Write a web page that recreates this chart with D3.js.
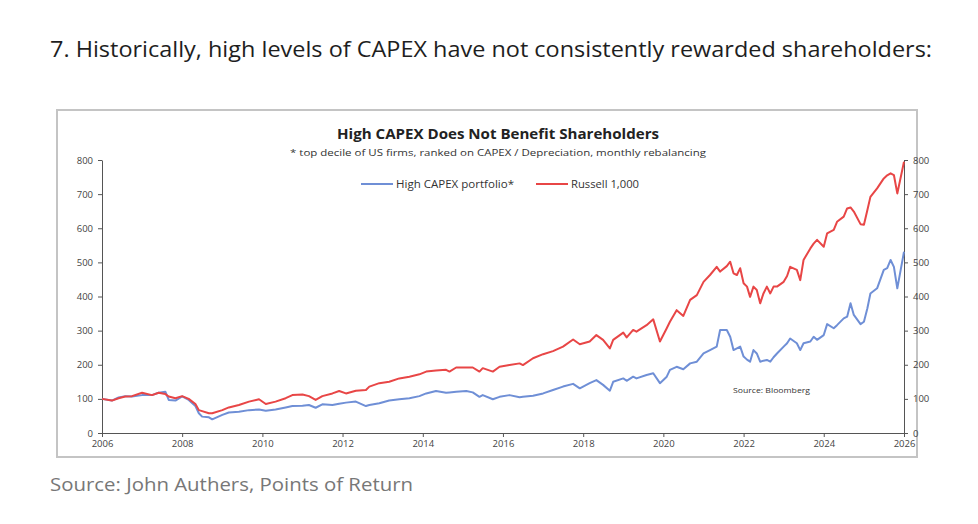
<!DOCTYPE html>
<html>
<head>
<meta charset="utf-8">
<script src="https://cdn.jsdelivr.net/npm/d3@7"></script>
<style>
  html, body { margin: 0; padding: 0; background: #fff; }
  svg text { font-family: "Open Sans", sans-serif; }
  .axis path, .axis line { stroke: #555; }
  .axis text { fill: #444; font-size: 9.5px; font-family: "Open Sans", sans-serif; }
</style>
</head>
<body>
<div id="chart"></div>
<script>
// month, Russell 1,000, High CAPEX portfolio
const months = [
  '2006-01','2006-04','2006-06','2006-08','2006-10','2007-01','2007-04','2007-06','2007-08','2007-09',
  '2007-11','2008-01','2008-03','2008-05','2008-06','2008-07','2008-09','2008-10','2009-01','2009-03',
  '2009-06','2009-09','2009-12','2010-02','2010-05','2010-08','2010-10','2011-01','2011-03','2011-05',
  '2011-07','2011-10','2011-12','2012-02','2012-05','2012-08','2012-09','2012-12','2013-03','2013-06',
  '2013-09','2013-12','2014-02','2014-05','2014-08','2014-09','2014-11','2015-02','2015-04','2015-06',
  '2015-07','2015-10','2015-12','2016-03','2016-06','2016-07','2016-10','2017-01','2017-04','2017-07',
  '2017-10','2017-12','2018-03','2018-05','2018-07','2018-09','2018-10','2019-01','2019-02','2019-04',
  '2019-05','2019-08','2019-10','2019-12','2020-02','2020-03','2020-05','2020-07','2020-09','2020-11',
  '2021-01','2021-03','2021-05','2021-06','2021-08','2021-09','2021-10','2021-11','2021-12','2022-01',
  '2022-02','2022-03','2022-04','2022-05','2022-06','2022-07','2022-08','2022-09','2022-10','2022-11',
  '2023-01','2023-02','2023-03','2023-05','2023-06','2023-07','2023-09','2023-10','2023-11','2024-01',
  '2024-02','2024-04','2024-05','2024-07','2024-08','2024-09','2024-10','2024-12','2025-01','2025-02',
  '2025-03','2025-05','2025-07','2025-08','2025-09','2025-10','2025-11','2026-01'
];
const russell = [
  100, 95, 102, 107, 108, 118, 111, 118, 114, 107,
  102, 108, 100, 85, 67, 64, 58, 58, 67, 75,
  82, 92, 99, 85, 92, 102, 111, 113, 108, 97,
  108, 116, 123, 116, 124, 126, 136, 146, 150, 160,
  165, 172, 180, 183, 185, 180, 192, 192, 192, 180,
  190, 180, 194, 199, 204, 199, 219, 231, 240, 253,
  274, 260, 268, 287, 273, 248, 273, 294, 280, 302,
  297, 316, 333, 268, 307, 326, 360, 343, 390, 404,
  443, 463, 487, 473, 489, 502, 468, 463, 483, 439,
  429, 399, 429, 419, 380, 409, 429, 409, 429, 429,
  443, 460, 487, 478, 448, 507, 541, 555, 566, 546,
  585, 595, 619, 634, 658, 661, 649, 612, 610, 653,
  692, 717, 746, 755, 761, 756, 702, 795
];
const highCapex = [
  100, 95, 104, 108, 107, 111, 111, 118, 121, 97,
  95, 107, 97, 79, 58, 48, 46, 40, 53, 60,
  62, 67, 69, 65, 69, 75, 79, 80, 82, 74,
  84, 82, 86, 89, 92, 79, 82, 87, 95, 99,
  102, 108, 116, 123, 118, 119, 121, 123, 119, 106,
  111, 99, 106, 111, 105, 106, 109, 116, 126, 136,
  144, 131, 146, 155, 141, 124, 150, 160, 153, 165,
  160, 170, 175, 146, 165, 185, 194, 187, 204, 209,
  233, 243, 253, 302, 302, 282, 243, 248, 253, 224,
  215, 209, 243, 233, 209, 212, 214, 209, 222, 233,
  253, 263, 277, 263, 243, 263, 268, 282, 273, 287,
  319, 307, 316, 336, 341, 380, 346, 319, 326, 365,
  409, 424, 478, 483, 507, 487, 424, 531
];
const yTicks = [0, 100, 200, 300, 400, 500, 600, 700, 800];
const xTicks = [2006, 2008, 2010, 2012, 2014, 2016, 2018, 2020, 2022, 2024, 2026];

const W = 978, H = 524;
const plot = { left: 102, right: 904, top: 160, bottom: 433 };

const parse = d3.timeParse('%Y-%m');
const dates = months.map(parse);

const svg = d3.select('#chart').append('svg')
  .attr('width', W)
  .attr('height', H);

// page heading
svg.append('text')
  .attr('x', 50).attr('y', 57)
  .attr('font-size', 22)
  .attr('fill', '#1e1e1e')
  .attr('textLength', 882).attr('lengthAdjust', 'spacingAndGlyphs')
  .text('7. Historically, high levels of CAPEX have not consistently rewarded shareholders:');

// chart frame
svg.append('rect')
  .attr('x', 57).attr('y', 110)
  .attr('width', 860).attr('height', 347)
  .attr('fill', '#fff')
  .attr('stroke', '#c4c4c4')
  .attr('stroke-width', 2);

const x = d3.scaleTime()
  .domain([new Date(2006, 0, 1), new Date(2026, 0, 1)])
  .range([plot.left, plot.right]);
const y = d3.scaleLinear()
  .domain([0, 800])
  .range([plot.bottom, plot.top]);

svg.append('g')
  .attr('class', 'axis')
  .attr('transform', 'translate(' + plot.left + ',0)')
  .call(d3.axisLeft(y).tickValues(yTicks).tickSize(4).tickPadding(5).tickSizeOuter(0));

svg.append('g')
  .attr('class', 'axis')
  .attr('transform', 'translate(' + plot.right + ',0)')
  .call(d3.axisRight(y).tickValues(yTicks).tickSize(4).tickPadding(5).tickSizeOuter(0));

svg.append('g')
  .attr('class', 'axis')
  .attr('transform', 'translate(0,' + plot.bottom + ')')
  .call(d3.axisBottom(x)
    .tickValues(xTicks.map(yr => new Date(yr, 0, 1)))
    .tickFormat(d3.timeFormat('%Y'))
    .tickSize(4).tickPadding(3).tickSizeOuter(0));

// series
const line = d3.line()
  .x((d, i) => x(dates[i]))
  .y(d => y(d));

svg.append('path')
  .datum(highCapex)
  .attr('fill', 'none')
  .attr('stroke', '#6f8fd6')
  .attr('stroke-width', 2)
  .attr('stroke-linejoin', 'round')
  .attr('d', line);

svg.append('path')
  .datum(russell)
  .attr('fill', 'none')
  .attr('stroke', '#e84646')
  .attr('stroke-width', 2)
  .attr('stroke-linejoin', 'round')
  .attr('d', line);

// titles
svg.append('text')
  .attr('x', 498).attr('y', 139)
  .attr('text-anchor', 'middle')
  .attr('font-size', 14).attr('font-weight', 'bold')
  .attr('fill', '#222')
  .attr('textLength', 322).attr('lengthAdjust', 'spacingAndGlyphs')
  .text('High CAPEX Does Not Benefit Shareholders');

svg.append('text')
  .attr('x', 498).attr('y', 156)
  .attr('text-anchor', 'middle')
  .attr('font-size', 9.5)
  .attr('fill', '#333')
  .attr('textLength', 416).attr('lengthAdjust', 'spacingAndGlyphs')
  .text('* top decile of US firms, ranked on CAPEX / Depreciation, monthly rebalancing');

// legend
const legend = [
  { label: 'High CAPEX portfolio*', color: '#6f8fd6', x: 361, w: 118 },
  { label: 'Russell 1,000', color: '#e84646', x: 536, w: 68 }
];
const lg = svg.append('g').attr('transform', 'translate(0,184)');
legend.forEach(l => {
  lg.append('line')
    .attr('x1', l.x).attr('x2', l.x + 32)
    .attr('stroke', l.color).attr('stroke-width', 2);
  lg.append('text')
    .attr('x', l.x + 35).attr('y', 3.5)
    .attr('font-size', 10)
    .attr('fill', '#333')
    .attr('textLength', l.w).attr('lengthAdjust', 'spacingAndGlyphs')
    .text(l.label);
});

svg.append('text')
  .attr('x', 733).attr('y', 393)
  .attr('font-size', 7.5)
  .attr('fill', '#333')
  .attr('textLength', 77).attr('lengthAdjust', 'spacingAndGlyphs')
  .text('Source: Bloomberg');

// page source
svg.append('text')
  .attr('x', 50).attr('y', 491)
  .attr('font-size', 17.5)
  .attr('fill', '#777')
  .attr('textLength', 363).attr('lengthAdjust', 'spacingAndGlyphs')
  .text('Source: John Authers, Points of Return');
</script>
</body>
</html>
